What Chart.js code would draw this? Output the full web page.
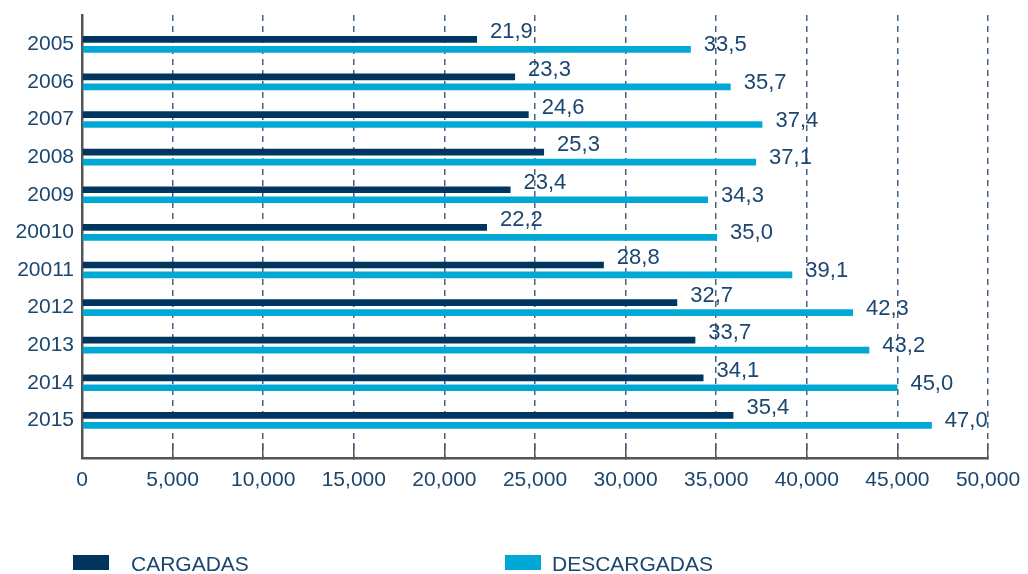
<!DOCTYPE html>
<html>
<head>
<meta charset="utf-8">
<script src="https://cdn.jsdelivr.net/npm/chart.js@4/dist/chart.umd.min.js"></script>
<style>
  html, body { margin: 0; padding: 0; background: #ffffff; }
  #wrap { position: relative; width: 1028px; height: 574px; overflow: hidden; }
  #c { position: absolute; left: 0; top: 0; }
  .lg { position: absolute; font-family: "Liberation Sans", Arial, sans-serif; font-size: 21px; color: #1b466f; line-height: 1; }
  .box { position: absolute; width: 36px; height: 15px; }
</style>
</head>
<body>
<div id="wrap">
  <canvas id="c" width="1028" height="574"></canvas>
  <div class="box" style="left:73px; top:555px; background:#00355f;"></div>
  <div class="lg" style="left:131px; top:553px;">CARGADAS</div>
  <div class="box" style="left:505px; top:555px; background:#00a8d6;"></div>
  <div class="lg" style="left:552px; top:553px;">DESCARGADAS</div>
</div>
<script>
// ---- Data ----
const years = ["2005","2006","2007","2008","2009","20010","20011","2012","2013","2014","2015"];
const cargadas = [21800, 23900, 24650, 25500, 23650, 22350, 28800, 32850, 33850, 34300, 35950];
const descargadas = [33600, 35800, 37550, 37200, 34550, 35050, 39200, 42550, 43450, 45000, 46900];
const cargadasLabels = ["21,9","23,3","24,6","25,3","23,4","22,2","28,8","32,7","33,7","34,1","35,4"];
const descargadasLabels = ["33,5","35,7","37,4","37,1","34,3","35,0","39,1","42,3","43,2","45,0","47,0"];
const xTicks = [0, 5000, 10000, 15000, 20000, 25000, 30000, 35000, 40000, 45000, 50000];

const TEXT = "#1b466f";
const FONT = "Liberation Sans";

const toPoints = (arr) => arr.map((v, i) => ({ x: v, y: i }));

const labelPlugin = {
  id: "valueLabels",
  afterDatasetsDraw(chart) {
    const ctx = chart.ctx;
    const sets = [
      { idx: 0, labels: cargadasLabels, dy: -7 },
      { idx: 1, labels: descargadasLabels, dy: -4 }
    ];
    ctx.save();
    ctx.font = "22px " + FONT;
    ctx.fillStyle = TEXT;
    ctx.textAlign = "left";
    ctx.textBaseline = "middle";
    sets.forEach(s => {
      const meta = chart.getDatasetMeta(s.idx);
      meta.data.forEach((el, i) => {
        ctx.fillText(s.labels[i], el.x + 13, el.y + s.dy);
      });
    });
    ctx.restore();
  }
};

new Chart(document.getElementById("c"), {
  type: "bar",
  data: {
    datasets: [
      { label: "CARGADAS", data: toPoints(cargadas), backgroundColor: "#00355f",
        categoryPercentage: 0.53, barPercentage: 0.67 },
      { label: "DESCARGADAS", data: toPoints(descargadas), backgroundColor: "#00a8d6",
        categoryPercentage: 0.53, barPercentage: 0.67 }
    ]
  },
  options: {
    indexAxis: "y",
    responsive: false,
    animation: false,
    layout: { padding: { top: 15, right: 40, left: 0, bottom: 0 } },
    plugins: { legend: { display: false }, tooltip: { enabled: false } },
    scales: {
      x: {
        type: "linear",
        position: "bottom",
        min: 0, max: 50000,
        afterBuildTicks(scale) { scale.ticks = xTicks.map(v => ({ value: v })); },
        afterFit(scale) { scale.height = 116; scale.paddingLeft = 0; scale.paddingRight = 0; },
        grid: {
          display: true,
          drawOnChartArea: true,
          drawTicks: true,
          tickLength: -15,
          tickColor: (c) => c.tick && c.tick.value === 0 ? "rgba(0,0,0,0)" : "#555555",
          tickWidth: 1.5,
          tickBorderDash: [],
          color: (c) => c.tick && c.tick.value === 0 ? "rgba(0,0,0,0)" : "#46617f",
          lineWidth: 1.5
        },
        border: { display: true, color: "#555555", width: 2.5, dash: [6, 5] },
        ticks: {
          padding: 25,
          color: TEXT,
          font: { family: FONT, size: 21 },
          maxRotation: 0,
          autoSkip: false,
          callback: (v) => v === 0 ? "0" : v.toLocaleString("en-US")
        }
      },
      y: {
        type: "linear",
        reverse: true,
        min: -0.78, max: 11,
        offset: false,
        afterFit(scale) { scale.width = 82; scale.paddingTop = 0; scale.paddingBottom = 0; },
        grid: { display: false, drawTicks: false },
        border: { display: true, color: "#555555", width: 2.5 },
        ticks: {
          stepSize: 1,
          includeBounds: false,
          autoSkip: false,
          padding: 8,
          color: TEXT,
          font: { family: FONT, size: 21 },
          callback: (v) => (Number.isInteger(v) && v >= 0 && v < years.length) ? years[v] : ""
        }
      }
    }
  },
  plugins: [labelPlugin]
});
</script>
</body>
</html>
